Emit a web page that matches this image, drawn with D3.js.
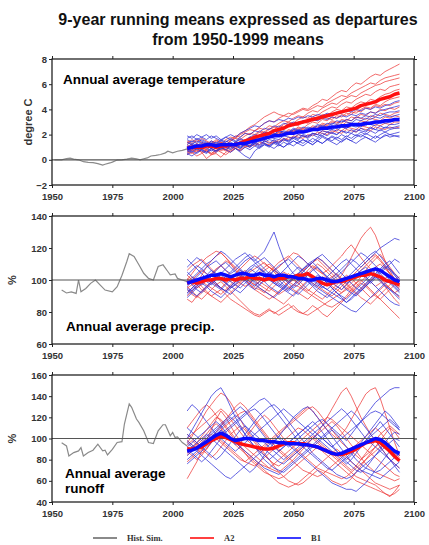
<!DOCTYPE html>
<html>
<head>
<meta charset="utf-8">
<script src="https://cdn.jsdelivr.net/npm/d3@7"></script>
<style>
  body { margin: 0; background: #fff; }
  text { font-family: "Liberation Sans", Arial, sans-serif; }
</style>
</head>
<body>
<svg id="chart" width="429" height="545"></svg>
<script>
// ---------------------------------------------------------------
// Data: 9-year running means as departures from 1950-1999 means
// ---------------------------------------------------------------

// Projection years (every second year, 2006-2094)
const projYears = d3.range(2006, 2095, 2);

// Tick labels
const xTicks = [1950, 1975, 2000, 2025, 2050, 2075, 2100];
const tempTicks = [-2, 0, 2, 4, 6, 8];
const precipTicks = [60, 80, 100, 120, 140];
const runoffTicks = [40, 60, 80, 100, 120, 140, 160];

// ---- Historical simulation ----
const histTempYears = [1951,1954,1956,1957.5,1959,1961,1963,1965,1967,1969,1971,1972,1974,1975,1977,1979,1981,1983,1985,1986.5,1988,1989.5,1991,1993,1995,1997,1998,2000,2002,2004,2006];
const histTempVals  = [0.0,0.0,0.1,0.13,0.05,0.0,-0.15,-0.2,-0.22,-0.3,-0.42,-0.35,-0.25,-0.18,-0.02,0.0,0.05,0.13,0.08,0.0,0.08,0.15,0.3,0.35,0.42,0.55,0.68,0.55,0.68,0.75,0.87];

const histPrecipYears = [1954,1956,1958,1960,1961,1962,1964,1966,1968,1970,1972,1975,1977,1979,1981,1982,1984,1986,1988,1990,1992,1994,1996,1998,1999,2001,2002,2004,2006];
const histPrecipVals  = [93.7,91.9,92.6,91.6,100,92.6,94.7,97.9,100,96.8,93.7,92.6,95.8,103,111.6,116.4,114.7,109.5,104.2,101,100,108.4,109.5,105.3,103.2,103.8,101,100,99];

const histRunoffYears = [1954,1956,1957,1959,1961,1962,1963,1965,1967,1969,1971,1972,1973,1975,1977,1979,1980,1982,1983,1985,1986,1988,1990,1992,1994,1996,1997,1999,2000,2001,2002,2004,2006];
const histRunoffVals  = [96,93,83.5,86.7,88.3,91.4,83.5,86.7,88.9,94.6,88.3,88.9,84.4,89.8,96.2,97,113.7,132.7,129.5,118.4,115.2,107.3,96.2,95.2,107.3,113,113,102.5,105.7,101,101.6,96.2,93];

// ---- Temperature (degree C) ----
const tempA2Mean = [0.9,1.0,1.0,1.0,1.1, 1.1,1.0,1.1,1.1,1.2, 1.2,1.3,1.5,1.6,1.8, 1.9,2.0,2.1,2.3,2.4, 2.5,2.7,2.8,2.9,3.0, 3.1,3.2,3.3,3.4,3.5, 3.6,3.7,3.8,3.9,4.0, 4.1,4.3,4.4,4.5,4.6, 4.8,4.9,5.0,5.2,5.3];
const tempB1Mean = [0.9,1.0,1.1,1.1,1.2, 1.2,1.1,1.2,1.2,1.2, 1.2,1.3,1.3,1.4,1.5, 1.6,1.7,1.8,1.9,1.9, 2.0,2.1,2.1,2.2,2.2, 2.3,2.4,2.4,2.5,2.5, 2.6,2.6,2.7,2.7,2.8, 2.8,2.8,2.9,2.9,3.0, 3.0,3.1,3.1,3.2,3.2];

const tempA2 = [
  [1.2,1.0,1.3,1.1,1.4, 1.2,1.5,1.3,1.6,1.8, 1.7,2.0,2.2,2.4,2.3, 2.6,2.9,3.1,3.0,3.3, 3.5,3.4,3.7,3.9,4.1, 4.0,4.3,4.5,4.8,4.7, 5.0,5.3,5.5,5.4,5.8, 6.1,6.0,6.3,6.6,6.8, 6.7,7.0,7.2,7.4,7.6],
  [0.8,1.1,0.9,1.2,1.0, 1.3,1.1,1.4,1.2,1.5, 1.8,2.1,2.3,2.6,2.8, 3.1,3.4,3.6,3.8,3.6, 3.5,3.7,3.6,3.8,4.0, 3.9,4.1,4.3,4.2,4.5, 4.7,4.9,5.1,5.0,5.3, 5.5,5.7,5.9,6.1,6.0, 6.3,6.5,6.6,6.7,6.8],
  [1.5,1.3,1.6,1.4,1.2, 1.5,1.3,1.1,1.4,1.6, 1.9,1.8,2.1,2.0,2.3, 2.5,2.4,2.7,2.6,2.9, 3.1,3.0,3.3,3.5,3.4, 3.7,3.9,3.8,4.1,4.3, 4.5,4.4,4.7,4.9,5.1, 5.0,5.3,5.5,5.7,5.9, 6.0,6.2,6.3,6.4,6.5],
  [0.6,0.9,0.7,1.0,0.8, 1.1,0.9,1.2,1.0,1.3, 1.2,1.5,1.4,1.7,1.9, 2.2,2.1,2.4,2.6,2.5, 2.8,3.0,2.9,3.2,3.4, 3.3,3.6,3.5,3.8,4.0, 4.2,4.1,4.4,4.6,4.5, 4.8,5.0,5.2,5.1,5.4, 5.6,5.5,5.8,5.9,6.0],
  [1.0,0.7,0.9,0.6,0.8, 0.5,0.7,0.9,0.8,1.1, 1.4,1.3,1.6,1.8,1.7, 2.0,2.2,2.1,2.4,2.3, 2.6,2.8,2.7,3.0,2.9, 3.2,3.4,3.3,3.6,3.5, 3.8,4.0,3.9,4.2,4.1, 4.4,4.6,4.5,4.8,4.7, 5.0,5.2,5.3,5.5,5.6],
  [0.4,0.6,0.3,0.5,0.7, 0.4,0.6,0.9,0.7,1.0, 0.9,1.2,1.1,1.4,1.6, 1.5,1.8,2.0,1.9,2.2, 2.1,2.4,2.3,2.6,2.5, 2.8,3.0,2.9,3.2,3.1, 3.4,3.3,3.6,3.5,3.8, 3.7,4.0,4.2,4.1,4.4, 4.3,4.6,4.8,4.9,5.0],
  [1.3,1.6,1.4,1.7,1.5, 1.3,1.6,1.4,1.2,1.5, 1.7,1.6,1.9,2.1,2.0, 2.3,2.2,2.5,2.4,2.7, 2.6,2.9,2.8,2.7,3.0, 2.9,3.2,3.1,3.4,3.3, 3.2,3.5,3.4,3.7,3.6, 3.9,3.8,4.1,4.0,4.3, 4.2,4.4,4.3,4.5,4.6],
  [0.7,0.5,0.8,0.6,0.1, 0.4,0.5,0.2,0.6,0.8, 1.0,1.3,1.2,1.5,1.4, 1.7,1.6,1.9,1.8,2.1, 2.0,2.3,2.2,2.5,2.4, 2.3,2.6,2.5,2.8,2.7, 3.0,2.9,3.2,3.1,3.4, 3.3,3.6,3.5,3.8,3.7, 4.0,3.9,4.1,4.0,4.2],
  [1.1,0.9,1.2,1.0,0.8, 1.1,0.9,0.7,0.9,1.2, 1.1,1.4,1.3,1.6,1.5, 1.8,1.7,2.0,1.9,2.2, 2.1,2.0,2.3,2.2,2.5, 2.4,2.7,2.6,2.9,2.8, 3.1,3.0,2.9,3.2,3.1, 3.4,3.3,3.2,3.5,3.4, 3.7,3.6,3.5,3.7,3.8],
  [0.9,1.2,1.0,0.8,1.1, 0.9,0.7,1.0,1.2,1.1, 1.4,1.3,1.2,1.5,1.7, 1.6,1.9,1.8,2.1,2.0, 1.9,2.2,2.1,2.4,2.3, 2.2,2.5,2.4,2.7,2.6, 2.5,2.8,2.7,3.0,2.9, 2.8,3.1,3.0,3.3,3.2, 3.1,3.4,3.3,3.5,3.4],
  [0.5,0.8,0.6,0.9,0.7, 0.5,0.8,0.6,0.4,0.7, 0.9,0.8,1.1,1.0,1.3, 1.2,1.5,1.4,1.3,1.6, 1.5,1.8,1.7,2.0,1.9, 1.8,2.1,2.0,2.3,2.2, 2.1,2.4,2.3,2.6,2.5, 2.4,2.7,2.6,2.5,2.8, 2.7,2.9,2.8,3.0,3.0],
  [1.4,1.2,1.0,1.3,1.1, 0.9,1.2,1.0,0.8,0.6, 0.9,0.7,1.0,1.2,1.1, 1.4,1.3,1.2,1.5,1.4, 1.7,1.6,1.9,1.8,1.7, 2.0,1.9,2.2,2.1,2.0, 2.3,2.2,2.1,2.4,2.3, 2.2,2.5,2.4,2.3,2.6, 2.5,2.4,2.6,2.5,2.6]
];

const tempB1 = [
  [1.7,1.9,1.6,1.8,2.0, 1.7,1.9,1.6,1.8,2.0, 1.8,2.1,2.3,2.5,2.7, 2.6,2.9,3.1,3.0,3.2, 3.1,3.3,3.2,3.4,3.3, 3.5,3.4,3.6,3.5,3.7, 3.6,3.8,3.7,3.9,3.8, 4.0,3.9,4.1,4.0,4.2, 4.1,4.3,4.4,4.6,4.7],
  [1.0,1.3,1.1,1.4,1.2, 1.5,1.3,1.6,1.4,1.7, 1.5,1.8,2.1,2.0,2.3, 2.2,2.5,2.4,2.7,2.6, 2.9,2.8,3.0,2.9,3.1, 3.0,3.2,3.1,3.3,3.2, 3.4,3.3,3.5,3.4,3.6, 3.5,3.7,3.6,3.8,3.7, 3.9,4.0,4.1,4.2,4.3],
  [0.6,0.8,1.0,0.8,1.1, 0.9,1.2,1.0,1.3,1.1, 1.4,1.2,1.5,1.7,1.6, 1.9,1.8,2.1,2.0,2.3, 2.2,2.1,2.4,2.3,2.6, 2.5,2.4,2.7,2.6,2.9, 2.8,3.1,3.0,3.2,3.1, 3.4,3.3,3.5,3.4,3.6, 3.5,3.7,3.8,3.8,3.9],
  [1.4,1.2,1.5,1.3,1.1, 1.4,1.2,1.5,1.3,1.1, 1.4,1.6,1.5,1.8,1.7, 2.0,1.9,1.8,2.1,2.0, 2.3,2.2,2.5,2.4,2.3, 2.6,2.5,2.8,2.7,2.6, 2.9,2.8,3.1,3.0,2.9, 3.2,3.1,3.3,3.2,3.4, 3.3,3.5,3.4,3.5,3.6],
  [0.4,0.7,0.5,0.8,0.6, 0.9,0.7,1.0,0.8,1.1, 0.9,0.6,0.3,0.1,0.7, 1.0,1.2,1.1,1.4,1.3, 1.6,1.5,1.8,1.7,2.0, 1.9,2.1,2.0,2.3,2.2, 2.4,2.3,2.6,2.5,2.7, 2.6,2.8,2.7,3.0,2.9, 3.1,3.0,3.2,3.2,3.3],
  [1.9,1.7,2.0,1.8,1.6, 1.9,1.7,1.5,1.8,1.6, 1.4,1.7,1.5,1.8,2.0, 1.9,2.2,2.1,2.0,2.3, 2.2,2.1,2.4,2.3,2.2, 2.5,2.4,2.3,2.6,2.5, 2.4,2.7,2.6,2.5,2.8, 2.7,2.6,2.9,2.8,2.7, 3.0,2.9,3.0,3.1,3.1],
  [0.8,0.6,0.9,0.7,0.5, 0.8,0.6,0.9,1.1,0.9, 1.2,1.0,1.3,1.1,1.4, 1.2,1.5,1.3,1.6,1.4, 1.7,1.5,1.8,1.6,1.9, 1.7,2.0,1.8,2.1,1.9, 2.2,2.0,2.3,2.1,2.4, 2.2,2.5,2.3,2.6,2.4, 2.7,2.5,2.8,2.8,2.9],
  [1.2,1.5,1.3,1.6,1.4, 1.2,1.0,1.3,1.1,1.4, 1.2,1.0,1.3,1.1,1.4, 1.6,1.5,1.8,1.7,1.6, 1.9,1.8,1.7,2.0,1.9, 1.8,2.1,2.0,1.9,2.2, 2.1,2.0,2.3,2.2,2.1, 2.4,2.3,2.2,2.5,2.4, 2.3,2.6,2.5,2.6,2.7],
  [0.5,0.3,0.6,0.8,0.6, 0.9,0.7,1.0,0.8,0.6, 0.9,0.7,1.0,0.8,1.1, 0.9,1.2,1.0,1.3,1.1, 1.4,1.2,1.5,1.3,1.6, 1.4,1.7,1.5,1.8,1.6, 1.9,1.7,2.0,1.8,2.1, 1.9,2.2,2.0,2.3,2.1, 2.4,2.2,2.4,2.5,2.5],
  [1.6,1.4,1.7,1.5,1.3, 1.1,1.4,1.2,1.5,1.3, 1.1,1.4,1.2,1.0,1.3, 1.1,1.4,1.6,1.5,1.3, 1.6,1.4,1.7,1.5,1.3, 1.6,1.4,1.7,1.9,1.7, 1.5,1.8,1.6,1.9,1.7, 2.0,1.8,2.1,1.9,1.7, 2.0,2.2,2.0,2.1,2.2],
  [1.1,0.9,1.2,1.0,1.3, 1.1,0.9,1.2,1.0,0.8, 1.1,0.9,1.2,1.4,1.2, 1.0,1.3,1.1,0.9,1.2, 1.0,1.3,1.5,1.3,1.1, 1.4,1.2,1.5,1.3,1.6, 1.4,1.2,1.5,1.7,1.5, 1.3,1.6,1.8,1.6,1.4, 1.7,1.9,2.0,1.9,1.9],
  [0.7,1.0,0.8,1.1,0.9, 0.7,1.0,0.8,1.1,1.3, 1.1,0.9,1.2,1.0,1.3, 1.5,1.3,1.1,1.4,1.2, 1.0,1.3,1.1,1.4,1.6, 1.4,1.2,1.5,1.3,1.6, 1.8,1.6,1.4,1.7,1.5, 1.8,2.0,1.8,1.6,1.9, 1.7,2.0,1.8,1.9,1.8]
];

// ---- Precipitation (% of 1950-1999 mean) ----
const precipA2Mean = [98,99,98,99,100, 100,101,101,100,101, 100,101,101,102,101, 101,100,101,100,101, 101,102,102,103,103, 104,102,100,98,97, 98,99,99,100,101, 102,103,103,104,103, 102,100,99,98,97];
const precipB1Mean = [98,99,100,101,102, 103,103,104,103,102, 103,104,104,103,103, 104,103,103,102,103, 103,102,102,101,101, 100,100,101,101,100, 99,99,100,101,102, 103,104,105,106,107, 106,104,102,100,99];

const precipA2 = [
  [92,95,98,103,108, 112,115,117,114,110, 106,103,100,97,95, 94,92,96,99,102, 105,103,100,98,101, 104,107,110,108,105, 102,99,103,108,114, 120,126,130,133,128, 120,112,106,100,96],
  [96,93,90,88,91, 94,97,99,96,93, 90,87,84,81,79, 78,80,82,79,81, 83,85,82,80,79, 81,84,82,79,77, 80,83,86,89,92, 95,98,96,93,90, 88,91,94,97,95],
  [100,104,108,111,114, 116,118,117,114,111, 108,106,104,103,101, 99,97,95,93,91, 93,95,97,96,94, 92,90,88,86,84, 83,85,87,90,94, 98,102,106,110,113, 116,112,108,104,101],
  [88,86,90,93,96, 99,97,95,98,101, 104,107,110,113,115, 113,110,108,106,108, 111,114,117,116,113, 110,108,106,104,106, 109,112,115,119,122, 118,114,110,107,104, 101,98,95,92,94],
  [103,100,97,94,92, 90,88,86,89,92, 95,98,101,99,97, 95,93,91,89,87, 85,88,91,94,97, 100,98,96,94,92, 90,93,96,99,102, 105,108,111,114,116, 113,109,104,99,96],
  [90,93,96,99,97, 95,93,91,94,97, 100,103,101,99,97, 99,102,105,108,111, 113,115,112,109,106, 108,111,114,112,109, 106,103,100,97,94, 91,94,97,100,103, 100,96,92,88,85],
  [106,109,111,113,110, 107,104,101,98,95, 97,99,102,105,107, 109,111,108,105,102, 99,96,94,92,90, 88,91,94,97,100, 102,104,101,98,95, 92,89,87,85,88, 91,94,97,100,102],
  [95,97,99,96,93, 90,92,94,91,88, 86,84,82,80,78, 77,79,81,80,78, 80,82,84,81,79, 78,80,82,84,86, 88,90,92,94,96, 98,100,97,94,91, 88,85,82,79,76],
  [99,102,100,98,101, 104,107,109,106,103, 100,98,96,98,101, 104,106,108,106,103, 101,99,97,100,103, 106,109,107,104,101, 98,96,94,97,100, 103,106,109,112,115, 112,108,104,101,99],
  [94,91,89,92,95, 98,101,104,102,99, 101,104,106,103,100, 97,95,93,96,99, 102,104,101,98,95, 93,96,99,102,99, 96,94,92,95,98, 101,104,102,99,96, 98,101,103,100,97],
  [101,98,95,97,100, 103,106,109,112,110, 107,104,101,99,102, 105,108,110,107,104, 101,98,100,103,106, 109,111,113,110,107, 104,101,98,95,93, 96,99,102,105,108, 110,107,104,101,98],
  [97,100,103,106,104, 101,98,95,93,96, 99,102,100,97,94, 92,90,88,90,93, 96,99,102,100,97, 94,92,90,88,91, 94,97,100,103,101, 98,95,92,89,91, 94,97,95,92,89]
];

const precipB1 = [
  [96,99,102,105,108, 110,112,109,106,104, 106,109,112,114,112, 115,118,124,130,121, 113,108,104,102,105, 108,111,114,112,109, 106,103,100,98,100, 103,106,108,105,102, 99,96,94,92,90],
  [91,94,97,100,103, 106,104,101,98,95, 97,100,103,106,109, 107,104,101,98,96, 99,102,105,108,106, 103,100,97,95,98, 101,104,107,110,113, 111,108,111,114,117, 120,122,124,126,125],
  [108,111,114,112,109, 106,103,100,102,105, 108,111,114,116,113, 110,107,104,101,98, 96,94,97,100,103, 105,102,99,96,94, 92,90,88,86,89, 92,95,98,101,104, 107,110,112,108,104],
  [100,97,94,92,95, 98,101,104,107,110, 113,115,117,114,111, 108,105,102,100,103, 106,109,112,115,113, 110,107,104,101,98, 95,92,89,86,88, 91,94,97,100,103, 106,109,107,104,101],
  [94,92,90,93,96, 99,102,100,98,96, 94,92,95,98,101, 104,102,100,98,96, 94,92,90,93,96, 99,97,95,93,91, 89,87,85,83,81, 80,83,86,89,92, 95,98,99,96,93],
  [103,106,109,107,104, 101,98,95,93,96, 99,102,105,108,110, 112,114,111,108,105, 102,99,101,104,107, 110,112,114,116,113, 110,107,104,101,98, 95,93,96,99,102, 105,108,106,103,100],
  [89,92,95,98,96, 93,91,89,92,95, 98,101,104,107,105, 102,99,96,94,92, 95,98,101,104,102, 99,96,93,91,89, 92,95,98,101,104, 107,110,113,116,118, 115,111,107,103,99],
  [113,110,107,104,101, 98,96,94,97,100, 103,106,104,101,98, 95,93,91,89,92, 95,98,101,104,107, 109,111,108,105,102, 99,96,94,97,100, 103,105,102,99,96, 93,90,87,85,84],
  [98,101,104,107,110, 112,115,118,116,113, 110,107,104,101,99, 97,100,103,106,109, 111,113,110,107,104, 101,98,96,99,102, 105,108,111,113,110, 107,104,101,98,101, 104,107,110,113,111],
  [95,93,96,99,102, 100,97,95,93,91, 94,97,100,98,96, 99,102,105,103,100, 97,95,93,91,94, 97,100,103,101,98, 95,92,90,88,91, 94,97,100,103,106, 104,101,98,95,92],
  [105,102,99,97,100, 103,106,109,111,108, 105,102,99,96,94, 97,100,103,106,104, 101,98,95,97,100, 103,106,108,105,102, 100,102,105,108,111, 114,117,115,112,109, 106,103,100,97,94],
  [92,95,98,101,99, 97,100,103,101,99, 97,95,98,101,104, 107,105,102,99,97, 95,93,96,99,102, 104,101,98,96,94, 97,100,97,94,92, 90,93,96,99,102, 100,97,94,91,88]
];

// ---- Runoff (% of 1950-1999 mean) ----
const runoffA2Mean = [90,90,91,92,95, 98,100,102,101,99, 97,95,94,93,92, 91,90,90,91,93, 95,96,96,95,95, 94,93,92,90,88, 86,85,85,86,88, 90,93,96,97,98, 96,92,88,83,79];
const runoffB1Mean = [88,89,91,94,97, 100,103,105,103,100, 98,99,100,100,99, 98,98,97,97,96, 96,95,95,95,94, 94,93,92,90,88, 86,85,86,88,90, 92,94,96,98,100, 99,96,92,88,86];

const runoffA2 = [
  [62,70,78,88,98, 108,118,126,120,112, 104,98,92,88,84, 80,76,72,70,68, 72,76,80,85,90, 95,100,105,112,120, 128,136,144,148,140, 130,120,112,104,98, 92,86,80,76,72],
  [96,102,110,118,126, 132,138,143,140,134, 126,118,110,104,98, 92,86,80,74,68, 64,60,58,56,58, 62,66,70,68,64, 60,58,56,58,62, 68,74,80,86,92, 98,104,110,106,100],
  [84,88,92,96,100, 104,100,96,92,88, 84,80,78,82,86, 90,94,98,102,106, 110,114,118,122,126, 130,126,120,114,108, 104,100,104,110,118, 126,134,142,146,148, 138,124,110,96,84],
  [110,116,122,128,132, 128,122,116,110,104, 98,92,86,80,76, 72,68,66,64,62, 64,68,72,76,80, 84,88,92,88,84, 80,76,72,68,64, 60,58,56,54,52, 50,48,46,48,52],
  [92,90,94,98,104, 110,114,110,104,98, 94,90,86,82,78, 74,70,66,62,58, 56,54,56,58,62, 66,70,74,78,82, 86,90,86,82,78, 74,70,66,62,58, 56,54,52,54,56],
  [100,104,108,112,116, 120,124,128,124,118, 112,106,100,96,92, 88,92,96,100,104, 108,112,116,120,124, 128,130,126,120,114, 108,102,96,92,88, 84,80,84,88,92, 96,94,90,86,82],
  [88,84,80,84,90, 96,102,108,112,116, 120,124,126,122,116, 110,104,98,94,90, 86,82,78,74,70, 68,66,64,66,70, 74,78,82,86,90, 94,98,102,106,110, 106,100,94,88,84],
  [104,100,96,92,96, 100,106,112,118,124, 130,134,130,124,118, 112,106,100,94,88, 84,80,84,88,92, 96,100,104,108,112, 116,112,106,100,94, 88,82,76,72,68, 66,64,62,60,62],
  [78,82,86,90,94, 98,102,106,104,100, 96,92,88,84,80, 76,74,72,76,80, 84,88,92,96,100, 104,108,112,116,120, 118,114,110,106,102, 98,94,90,86,82, 78,74,70,66,64],
  [94,98,94,90,86, 82,86,92,98,104, 108,112,108,102,96, 90,84,80,76,74, 78,82,86,90,94, 98,102,98,94,90, 86,82,78,74,70, 74,80,86,92,98, 104,108,112,108,104],
  [86,90,96,102,108, 114,120,118,112,106, 100,96,100,106,112, 118,122,118,112,106, 100,96,92,88,84, 80,76,72,70,68, 66,64,62,64,68, 72,76,80,84,88, 92,96,92,88,84],
  [98,94,90,86,90, 96,102,98,94,90, 86,82,78,76,74, 78,82,86,90,94, 98,102,106,110,108, 104,100,96,92,88, 84,80,76,72,68, 64,62,60,58,56, 52,48,45,50,56]
];

const runoffB1 = [
  [100,108,116,124,132, 140,145,148,140,130, 120,112,104,98,92, 88,84,80,84,88, 92,96,100,104,108, 112,116,112,106,100, 94,88,82,78,74, 70,68,72,78,84, 90,96,102,106,104],
  [126,132,128,122,116, 110,104,100,96,92, 88,92,96,100,104, 108,112,116,120,124, 128,124,120,116,112, 108,104,100,96,92, 88,84,80,76,80, 86,92,98,104,110, 116,110,104,98,92],
  [90,86,82,78,82, 88,94,100,106,110, 114,118,122,126,128, 124,118,112,106,100, 96,92,96,100,104, 108,112,116,118,114, 110,106,102,98,104, 110,116,122,128,134, 138,142,146,148,148],
  [76,80,84,88,92, 96,100,104,108,112, 116,120,124,128,132, 136,138,134,128,122, 116,110,104,98,92, 88,84,80,76,72, 70,74,78,82,86, 90,94,98,102,106, 110,114,118,114,108],
  [96,92,88,84,80, 76,72,68,64,62, 66,70,74,78,82, 86,90,94,98,102, 98,94,90,86,82, 78,74,70,66,62, 58,56,54,52,52, 50,54,58,64,70, 76,82,88,86,84],
  [110,106,102,98,102, 106,110,114,118,122, 126,130,126,120,114, 108,102,96,92,88, 92,96,100,104,108, 112,108,104,100,96, 92,96,100,104,108, 112,116,120,124,126, 124,120,116,112,108],
  [84,88,92,96,100, 104,108,112,116,120, 116,110,104,98,92, 86,80,76,72,70, 68,72,76,80,84, 88,92,96,100,104, 108,104,98,92,86, 80,76,72,70,68, 70,74,78,82,86],
  [92,96,100,104,108, 112,116,112,106,100, 94,98,104,110,116, 122,126,130,132,128, 122,116,110,104,98, 92,86,82,78,74, 70,66,64,62,64, 68,72,76,80,84, 88,92,96,100,98],
  [104,100,96,92,88, 84,80,84,90,96, 102,108,112,108,104, 100,96,92,88,84, 80,84,88,92,96, 100,104,108,112,116, 120,124,128,124,118, 112,106,100,96,92, 88,84,80,76,72],
  [88,92,96,100,104, 100,96,92,88,84, 80,76,72,68,72, 78,84,90,96,102, 108,114,120,124,128, 130,126,120,114,108, 102,96,90,84,78, 74,70,68,66,64, 62,66,70,74,78],
  [98,94,90,94,98, 102,106,110,114,118, 122,118,112,106,100, 94,90,86,82,78, 76,80,84,88,92, 96,100,104,100,96, 92,88,84,80,84, 90,96,102,108,114, 120,126,122,116,110],
  [80,84,88,92,96, 100,104,108,104,100, 96,92,88,84,80, 76,72,70,68,66, 70,74,78,82,86, 90,94,98,102,106, 110,114,118,122,126, 122,116,110,104,98, 92,86,80,74,68]
];

// Legend entries
const legendNames = ["Hist. Sim.", "A2", "B1"];

// ---------------------------------------------------------------
// Layout and styling
// ---------------------------------------------------------------
const COL_HIST = "#8a8a8a";
const COL_A2_THIN = "#ee3a3a";
const COL_B1_THIN = "#2f2fd8";
const COL_A2 = "#ff1010";
const COL_B1 = "#0a0aff";

const svg = d3.select("#chart");
const x = d3.scaleLinear().domain([1950, 2100]).range([52, 414]);

const panels = [
  {
    domain: [-2, 8], top: 59, bottom: 185, ticks: tempTicks, ref: 0,
    yTitle: "degree C", yTitleX: 32,
    label: ["Annual average temperature"], labelX: 63, labelY: [84],
    histYears: histTempYears, histVals: histTempVals,
    a2: tempA2, b1: tempB1, a2Mean: tempA2Mean, b1Mean: tempB1Mean
  },
  {
    domain: [60, 140], top: 216, bottom: 344, ticks: precipTicks, ref: 100,
    yTitle: "%", yTitleX: 16,
    label: ["Annual average precip."], labelX: 66, labelY: [331],
    histYears: histPrecipYears, histVals: histPrecipVals,
    a2: precipA2, b1: precipB1, a2Mean: precipA2Mean, b1Mean: precipB1Mean
  },
  {
    domain: [40, 160], top: 375, bottom: 502, ticks: runoffTicks, ref: 100,
    yTitle: "%", yTitleX: 16,
    label: ["Annual average", "runoff"], labelX: 65, labelY: [478, 493],
    histYears: histRunoffYears, histVals: histRunoffVals,
    a2: runoffA2, b1: runoffB1, a2Mean: runoffA2Mean, b1Mean: runoffB1Mean
  }
];

// Title
const title = svg.append("text")
  .attr("x", 238).attr("text-anchor", "middle")
  .style("font-weight", "bold").style("font-size", "16px").attr("fill", "#111");
title.append("tspan").attr("x", 238).attr("y", 25).text("9-year running means expressed as departures");
title.append("tspan").attr("x", 238).attr("y", 45).text("from 1950-1999 means");

function styleAxis(g, showLabels) {
  g.select(".domain").remove();
  g.selectAll(".tick line").attr("stroke", "#222").attr("stroke-width", 1);
  g.selectAll(".tick text")
    .style("font-family", "'Liberation Sans', Arial, sans-serif")
    .style("font-size", "9.5px").style("font-weight", "bold")
    .attr("fill", "#333");
  if (!showLabels) g.selectAll(".tick text").remove();
}

panels.forEach(p => {
  const y = d3.scaleLinear().domain(p.domain).range([p.bottom, p.top]);
  const g = svg.append("g");
  const [x0, x1] = x.range();

  const seriesLine = d3.line()
    .x((d, i) => x(projYears[i]))
    .y(d => y(d));

  // Historical simulation
  g.append("path")
    .datum(d3.zip(p.histYears, p.histVals))
    .attr("fill", "none").attr("stroke", COL_HIST).attr("stroke-width", 1.2)
    .attr("d", d3.line().x(d => x(d[0])).y(d => y(d[1])));

  // Individual model runs
  g.append("g").selectAll("path").data(p.a2).join("path")
    .attr("fill", "none").attr("stroke", COL_A2_THIN).attr("stroke-width", 1)
    .attr("stroke-opacity", 0.75).attr("d", seriesLine);
  g.append("g").selectAll("path").data(p.b1).join("path")
    .attr("fill", "none").attr("stroke", COL_B1_THIN).attr("stroke-width", 1)
    .attr("stroke-opacity", 0.75).attr("d", seriesLine);

  // Reference line
  g.append("line")
    .attr("x1", x0).attr("x2", x1).attr("y1", y(p.ref)).attr("y2", y(p.ref))
    .attr("stroke", "#555").attr("stroke-width", 1.2);

  // Ensemble means
  g.append("path").datum(p.a2Mean)
    .attr("fill", "none").attr("stroke", COL_A2).attr("stroke-width", 3.5)
    .attr("stroke-linejoin", "round").attr("d", seriesLine);
  g.append("path").datum(p.b1Mean)
    .attr("fill", "none").attr("stroke", COL_B1).attr("stroke-width", 3.5)
    .attr("stroke-linejoin", "round").attr("d", seriesLine);

  // Frame
  g.append("rect")
    .attr("x", x0).attr("y", p.top).attr("width", x1 - x0).attr("height", p.bottom - p.top)
    .attr("fill", "none").attr("stroke", "#111").attr("stroke-width", 1.2);

  // Axes (ticks on all four sides, pointing outward)
  g.append("g").attr("transform", `translate(0,${p.bottom})`)
    .call(d3.axisBottom(x).tickValues(xTicks).tickFormat(d3.format("d")).tickSize(3).tickPadding(5))
    .call(a => styleAxis(a, true));
  g.append("g").attr("transform", `translate(0,${p.top})`)
    .call(d3.axisTop(x).tickValues(xTicks).tickSize(3))
    .call(a => styleAxis(a, false));
  g.append("g").attr("transform", `translate(${x0},0)`)
    .call(d3.axisLeft(y).tickValues(p.ticks).tickFormat(d3.format("d")).tickSize(3).tickPadding(2))
    .call(a => styleAxis(a, true));
  g.append("g").attr("transform", `translate(${x1},0)`)
    .call(d3.axisRight(y).tickValues(p.ticks).tickSize(3))
    .call(a => styleAxis(a, false));

  // Y-axis title
  g.append("text")
    .attr("transform", `translate(${p.yTitleX},${(p.top + p.bottom) / 2}) rotate(-90)`)
    .attr("text-anchor", "middle")
    .style("font-size", "11px").style("font-weight", "bold").attr("fill", "#333")
    .text(p.yTitle);

  // Panel label
  p.label.forEach((t, i) => {
    g.append("text")
      .attr("x", p.labelX).attr("y", p.labelY[i])
      .style("font-size", "13.5px").style("font-weight", "bold").attr("fill", "#000")
      .text(t);
  });
});

// Legend
const legendColors = [COL_HIST, COL_A2, COL_B1];
const legendX = [93, 190, 277];
const legend = svg.append("g").attr("transform", "translate(0,538)");
legendNames.forEach((name, i) => {
  legend.append("line")
    .attr("x1", legendX[i]).attr("x2", legendX[i] + 24)
    .attr("y1", 0).attr("y2", 0)
    .attr("stroke", legendColors[i]).attr("stroke-width", 2)
    .attr("stroke-opacity", i === 0 ? 1 : 0.8);
  legend.append("text")
    .attr("x", legendX[i] + 34).attr("y", 3)
    .style("font-family", "'Liberation Serif', 'Times New Roman', serif")
    .style("font-size", "8.5px").style("font-weight", "bold").attr("fill", "#333")
    .text(name);
});
</script>
</body>
</html>
